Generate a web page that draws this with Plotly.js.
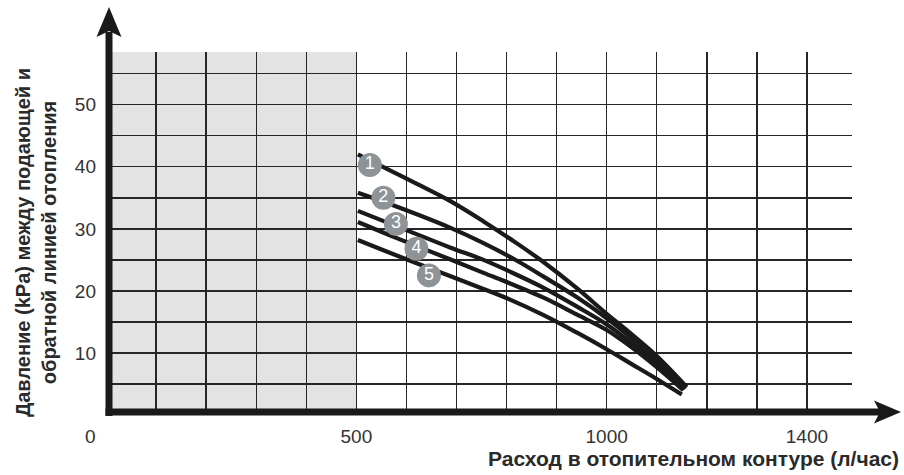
<!DOCTYPE html>
<html>
<head>
<meta charset="utf-8">
<script src="https://cdn.plot.ly/plotly-3.0.1.min.js"></script>
<style>html,body{margin:0;padding:0;background:#fff;}#chart{width:904px;height:475px;}</style>
</head>
<body>
<div id="chart"></div>
<script>
// ---- data ----
const flow1 = [503, 550, 620, 687, 754, 820, 873, 941, 1000, 1050, 1100, 1160];
const pres1 = [42.0, 40.1, 37.3, 34.5, 31.2, 27.7, 24.7, 20.4, 16.3, 13.0, 9.5, 4.5];
const flow2 = [503, 580, 687, 754, 820, 874, 940, 1000, 1050, 1100, 1158];
const pres2 = [35.8, 33.6, 30.2, 27.7, 24.9, 22.3, 19.0, 15.6, 12.4, 8.9, 4.3];
const flow3 = [503, 600, 687, 754, 807, 874, 940, 1000, 1050, 1100, 1156];
const pres3 = [32.9, 29.8, 27.0, 25.0, 23.1, 20.5, 17.5, 14.6, 11.6, 8.3, 4.2];
const flow4 = [503, 587, 687, 754, 807, 874, 940, 1000, 1050, 1100, 1153];
const pres4 = [31.1, 28.3, 25.1, 22.9, 21.2, 18.9, 16.2, 13.7, 10.9, 7.7, 4.0];
const flow5 = [503, 587, 687, 754, 807, 874, 940, 1000, 1050, 1100, 1150];
const pres5 = [28.2, 25.5, 22.4, 20.3, 18.6, 16.1, 13.3, 10.6, 8.2, 5.8, 3.3];

const labelFlow = [527, 554, 579, 620, 645];
const labelPres = [40.3, 35.0, 30.8, 26.8, 22.5];
const labelText = ['1', '2', '3', '4', '5'];

const xTickVals = [0, 500, 1000, 1400];
const yTickVals = [10, 20, 30, 40, 50];
const grayZone = [0, 500];

const xTitle = 'Расход в отопительном контуре (л/час)';
const yTitle = 'Давление (kPa) между подающей и<br>обратной линией отопления';

// ---- layout geometry ----
const W = 904, H = 475, L = 106, R = 52, T = 52, B = 60;
const pw = W - L - R, ph = H - T - B;
const px = v => (v - L) / pw;
const py = v => (H - B - v) / ph;
const FONT = 'Liberation Sans, Arial, sans-serif';
const INK = '#1a1a1a';

const series = [[flow1, pres1], [flow2, pres2], [flow3, pres3], [flow4, pres4], [flow5, pres5]];
const traces = series.map(([x, y]) => ({
  x: x, y: y, type: 'scatter', mode: 'lines',
  line: {color: INK, width: 4.2, shape: 'spline', smoothing: 1},
  hoverinfo: 'skip', showlegend: false
}));
traces.push({
  x: labelFlow, y: labelPres, text: labelText, type: 'scatter', mode: 'markers+text',
  marker: {size: 24, color: '#8e9398'},
  textposition: 'middle center',
  textfont: {family: FONT, size: 18, color: '#ffffff'},
  hoverinfo: 'skip', showlegend: false, cliponaxis: false
});

const gridC = '#262626';
const layout = {
  width: W, height: H,
  margin: {l: L, r: R, t: T, b: B, pad: 0},
  paper_bgcolor: '#ffffff', plot_bgcolor: 'rgba(0,0,0,0)',
  font: {family: FONT, color: '#333'},
  xaxis: {
    range: [0, 1490], showline: false, zeroline: false, ticks: '',
    tickvals: xTickVals.slice(1), ticktext: xTickVals.slice(1).map(String),
    tickfont: {size: 19, color: '#333', family: FONT},
    ticklabelstandoff: 8,
    showgrid: true, gridcolor: gridC, gridwidth: 1.4,
    minor: {dtick: 100, tick0: 0, showgrid: true, gridcolor: gridC, gridwidth: 1.4},
    fixedrange: true
  },
  yaxis: {
    range: [0, 58.5], showline: false, zeroline: false, ticks: '',
    tickvals: yTickVals, ticktext: yTickVals.map(String),
    tickfont: {size: 19, color: '#333', family: FONT},
    ticklabelstandoff: 9,
    showgrid: true, gridcolor: gridC, gridwidth: 1.4,
    minor: {dtick: 5, tick0: 0, showgrid: true, gridcolor: gridC, gridwidth: 1.4},
    fixedrange: true
  },
  shapes: [
    {type: 'rect', xref: 'x', yref: 'paper', x0: grayZone[0], x1: grayZone[1], y0: 0, y1: 1,
     fillcolor: '#e3e3e3', line: {width: 0}, layer: 'below'},
    {type: 'line', xref: 'paper', yref: 'paper', x0: px(109), x1: px(109), y0: py(416), y1: py(32),
     line: {color: INK, width: 7}},
    {type: 'path', xref: 'paper', yref: 'paper',
     path: `M ${px(109)},${py(7)} L ${px(121.5)},${py(37)} L ${px(109)},${py(31)} L ${px(96.5)},${py(37)} Z`,
     fillcolor: INK, line: {width: 0}},
    {type: 'line', xref: 'paper', yref: 'paper', x0: px(105.5), x1: px(882), y0: py(412), y1: py(412),
     line: {color: INK, width: 7}},
    {type: 'path', xref: 'paper', yref: 'paper',
     path: `M ${px(901)},${py(412)} L ${px(874)},${py(400.5)} L ${px(880)},${py(412)} L ${px(874)},${py(423.5)} Z`,
     fillcolor: INK, line: {width: 0}}
  ],
  annotations: [
    {text: String(xTickVals[0]), xref: 'paper', yref: 'paper', x: px(90), y: py(436),
     xanchor: 'center', yanchor: 'middle', showarrow: false,
     font: {size: 19, color: '#333', family: FONT}},
    {text: xTitle, xref: 'paper', yref: 'paper', x: px(901), y: py(459),
     xanchor: 'right', yanchor: 'middle', showarrow: false,
     font: {size: 21, color: '#2a2a2a', family: FONT, weight: 700}},
    {text: yTitle, xref: 'paper', yref: 'paper', x: px(36), y: py(243),
     xanchor: 'center', yanchor: 'middle', showarrow: false, textangle: -90,
     font: {size: 20, color: '#2a2a2a', family: FONT, weight: 700}}
  ]
};

Plotly.newPlot('chart', traces, layout, {displayModeBar: false, staticPlot: true});
</script>
</body>
</html>
